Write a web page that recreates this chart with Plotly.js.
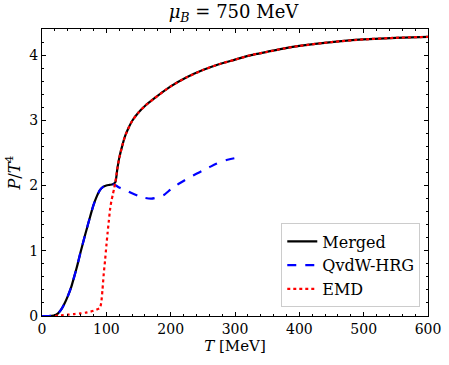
<!DOCTYPE html>
<html>
<head>
<meta charset="utf-8">
<script src="https://cdn.plot.ly/plotly-3.0.1.min.js"></script>
<style>
  html, body { margin: 0; padding: 0; background: white; }
  #graph { width: 449px; height: 365px; }
</style>
</head>
<body>
<div id="graph"></div>
<script>
// QvdW-HRG pressure
var hrgT = [0, 10, 15, 20, 25, 30, 35, 40, 45, 50, 55, 60, 65, 70, 75, 80, 85, 90, 95, 100,
  105, 110, 115, 120, 130, 140, 150, 160, 170, 180, 190, 200, 210, 220, 230, 240, 250,
  260, 270, 280, 290, 300];
var hrgP = [0, 0, 0.002, 0.01, 0.04, 0.1, 0.19, 0.3, 0.43, 0.6, 0.78, 0.98, 1.17, 1.35, 1.53,
  1.7, 1.83, 1.93, 1.98, 2.0, 2.01, 2.02, 2.0, 1.97, 1.93, 1.88, 1.84, 1.81, 1.8, 1.82,
  1.86, 1.94, 2.01, 2.07, 2.13, 2.18, 2.23, 2.28, 2.33, 2.37, 2.4, 2.42];

// EMD pressure
var emdT = [20, 30, 40, 50, 60, 70, 80, 85, 90, 92, 94, 96, 98, 100, 102, 104, 106, 108, 110,
  112, 114, 117, 120, 125, 130, 140, 150, 160, 175, 200, 225, 250, 275, 300, 325, 350,
  375, 400, 450, 500, 550, 600];
var emdP = [0, 0.01, 0.02, 0.03, 0.04, 0.055, 0.08, 0.1, 0.12, 0.2, 0.4, 0.65, 0.85, 1.07,
  1.28, 1.47, 1.65, 1.77, 1.86, 1.95, 2.05, 2.25, 2.42, 2.62, 2.78, 2.99, 3.12, 3.22,
  3.34, 3.52, 3.66, 3.77, 3.86, 3.93, 4.0, 4.05, 4.1, 4.14, 4.2, 4.24, 4.265, 4.28];

// merged: hadronic side below the switch, EMD above it
var switchLow = 110;
var switchHigh = 114;
var mergedT = [];
var mergedP = [];
hrgT.forEach(function (t, i) {
  if (t <= switchLow) { mergedT.push(t); mergedP.push(hrgP[i]); }
});
emdT.forEach(function (t, i) {
  if (t >= switchHigh) { mergedT.push(t); mergedP.push(emdP[i]); }
});

var xRange = [0, 600];
var yRange = [0, 4.4];
var serif = "DejaVu Serif, Liberation Serif, serif";

var traceMerged = {
  type: "scatter",
  mode: "lines",
  name: "Merged",
  x: mergedT,
  y: mergedP,
  line: { width: 2.2, color: "black", shape: "spline", smoothing: 0.6 },
};
var traceHRG = {
  type: "scatter",
  mode: "lines",
  name: "QvdW-HRG",
  x: hrgT,
  y: hrgP,
  line: { width: 2.2, color: "blue", dash: "dash", shape: "spline", smoothing: 0.6 },
};
var traceEMD = {
  type: "scatter",
  mode: "lines",
  name: "EMD",
  x: emdT,
  y: emdP,
  line: { width: 2.2, color: "red", dash: "dot", shape: "spline", smoothing: 0.6 },
};

var axisStyle = {
  showgrid: false,
  zeroline: false,
  showline: true,
  linecolor: "black",
  linewidth: 1,
  mirror: true,
  ticks: "inside",
  ticklen: 4,
  tickwidth: 1,
  tickcolor: "black",
  tickfont: { family: serif, size: 14, color: "black" },
};
// top / right copies only for the mirrored ticks
var mirrorStyle = {
  showgrid: false,
  zeroline: false,
  showline: false,
  showticklabels: false,
  ticks: "inside",
  ticklen: 4,
  tickwidth: 1,
  tickcolor: "black",
};

var layout = {
  width: 449,
  height: 365,
  margin: { l: 42, r: 21, t: 29, b: 49 },
  paper_bgcolor: "white",
  plot_bgcolor: "white",
  font: { family: serif, color: "black" },
  title: {
    text: "<i>μ</i><sub><i>B</i></sub> = 750 MeV",
    font: { family: serif, size: 18, color: "black" },
    x: 0.52,
    xanchor: "center",
    y: 0.985,
    yanchor: "top",
  },
  xaxis: Object.assign({}, axisStyle, {
    range: xRange,
    dtick: 100,
    minor: { dtick: 20, ticks: "inside", ticklen: 2, tickcolor: "black" },
    title: { text: "<i>T</i> [MeV]", font: { family: serif, size: 15 }, standoff: 4 },
  }),
  yaxis: Object.assign({}, axisStyle, {
    range: yRange,
    dtick: 1,
    minor: { dtick: 0.2, ticks: "inside", ticklen: 2, tickcolor: "black" },
    title: { text: "<i>P</i>/<i>T</i><sup>4</sup>", font: { family: serif, size: 16 }, standoff: 4 },
  }),
  xaxis2: Object.assign({}, mirrorStyle, {
    overlaying: "x",
    side: "top",
    range: xRange,
    dtick: 100,
    minor: { dtick: 20, ticks: "inside", ticklen: 2, tickcolor: "black" },
  }),
  yaxis2: Object.assign({}, mirrorStyle, {
    overlaying: "y",
    side: "right",
    range: yRange,
    dtick: 1,
    minor: { dtick: 0.2, ticks: "inside", ticklen: 2, tickcolor: "black" },
  }),
  showlegend: true,
  legend: {
    x: 0.98,
    xanchor: "right",
    y: 0.03,
    yanchor: "bottom",
    bgcolor: "rgba(255,255,255,0.8)",
    bordercolor: "#cccccc",
    borderwidth: 1,
    font: { family: serif, size: 16, color: "black" },
    tracegroupgap: 0,
  },
};

var config = { staticPlot: true, displayModeBar: false };

// invisible trace so the mirror axes get drawn
var traceMirror = {
  type: "scatter",
  mode: "lines",
  x: xRange,
  y: yRange,
  xaxis: "x2",
  yaxis: "y2",
  showlegend: false,
  hoverinfo: "skip",
  line: { width: 0, color: "rgba(0,0,0,0)" },
};

Plotly.newPlot("graph", [traceMerged, traceHRG, traceEMD, traceMirror], layout, config);
</script>
</body>
</html>
